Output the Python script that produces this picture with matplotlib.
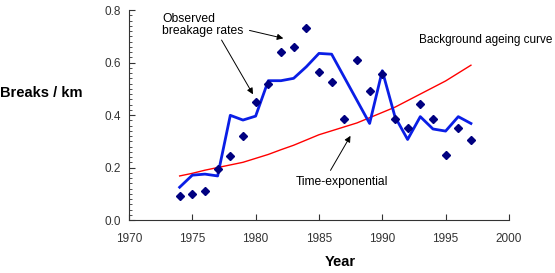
import matplotlib.pyplot as plt
from matplotlib.ticker import MultipleLocator

plt.rcParams['font.family'] = ['Liberation Sans', 'DejaVu Sans']

# ===== data =====
years = list(range(1974, 1998))
observed = [0.091, 0.098, 0.11, 0.194, 0.244, 0.321, 0.451, 0.518, 0.639, 0.66,
            0.733, 0.565, 0.527, 0.385, 0.61, 0.493, 0.556, 0.385, 0.35, 0.444,
            0.385, 0.248, 0.35, 0.304]
smoothed = [0.125, 0.171, 0.175, 0.168, 0.399, 0.381, 0.396, 0.531, 0.531, 0.54,
            0.584, 0.635, 0.632, 0.544, 0.456, 0.368, 0.569, 0.394, 0.307, 0.394,
            0.347, 0.339, 0.394, 0.368]
background = [0.168, 0.178, 0.19, 0.2, 0.21, 0.22, 0.235, 0.25, 0.268, 0.285,
              0.305, 0.325, 0.34, 0.355, 0.37, 0.39, 0.41, 0.43, 0.455, 0.48,
              0.505, 0.53, 0.56, 0.59]
x_ticks = [1970, 1975, 1980, 1985, 1990, 1995, 2000]
y_ticks = [0.0, 0.2, 0.4, 0.6, 0.8]

# ===== plot =====
fig = plt.figure(figsize=(5.55, 2.73), dpi=100)
ax = fig.add_axes([0.2324, 0.194, 0.6846, 0.769])

ax.plot(years, background, color="#ff0000", lw=1.0, zorder=2)
ax.plot(years, smoothed, color="#0a1ee6", lw=2.0, zorder=3)
ax.plot(years, observed, linestyle="none", marker="D", markersize=4.5,
        color="#000080", zorder=4)

ax.set_xlim(1970, 2000)
ax.set_ylim(0, 0.8)
ax.set_xticks(x_ticks)
ax.set_yticks(y_ticks)
ax.yaxis.set_minor_locator(MultipleLocator(0.02))
ax.set_yticklabels([f"{v:.1f}" for v in y_ticks])
ax.tick_params(axis="both", which="both", direction="in", labelsize=8.5,
               colors="#333333")
ax.tick_params(axis="x", which="major", pad=9)
ax.tick_params(axis="y", which="major", pad=6)
ax.tick_params(axis="both", which="major", length=4)
ax.tick_params(axis="both", which="minor", length=2)
for s in ["top", "right"]:
    ax.spines[s].set_visible(False)
for s in ["left", "bottom"]:
    ax.spines[s].set_color("#333333")
    ax.spines[s].set_linewidth(0.8)

# axis titles
fig.text(0.0, 1 - 93 / 273, "Breaks / km", fontsize=10.5, fontweight="bold",
         ha="left", va="center")
fig.text(340 / 555, 1 - 262 / 273, "Year", fontsize=10.5, fontweight="bold",
         ha="center", va="center")

# annotations
arrow = dict(arrowstyle="-|>", color="black", lw=0.7, mutation_scale=9)
ax.text(1972.6, 0.79, "Observed\nbreakage rates", fontsize=8.7,
        ha="left", va="top", linespacing=1.0)
ax.annotate("", xy=(1979.9, 0.47), xytext=(1977.2, 0.695),
            arrowprops=arrow)
ax.annotate("", xy=(1982.4, 0.69), xytext=(1979.3, 0.725),
            arrowprops=arrow)
ax.text(1983.2, 0.145, "Time-exponential", fontsize=8.7, ha="left", va="center")
ax.annotate("", xy=(1987.6, 0.33), xytext=(1985.8, 0.18),
            arrowprops=arrow)
fig.text(552 / 555, 1 - 40 / 273, "Background ageing curve", fontsize=8.5,
         ha="right", va="center")

plt.savefig("out.png", dpi=100)
